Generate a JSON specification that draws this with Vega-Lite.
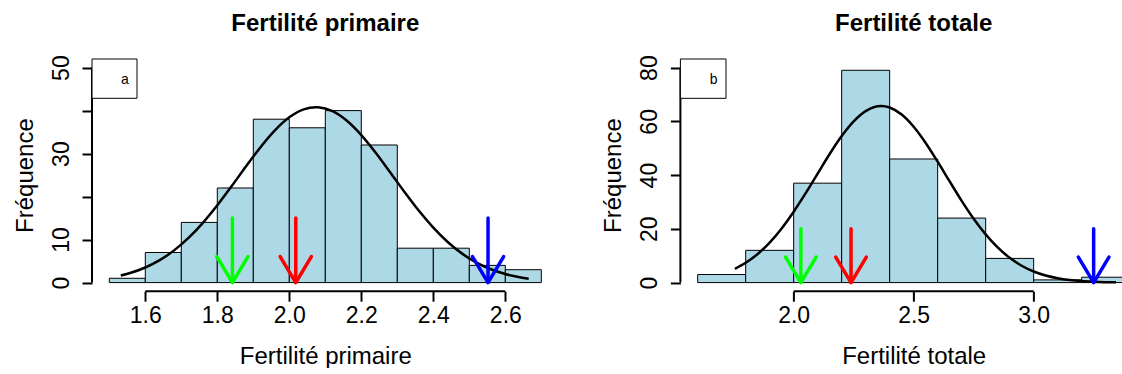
{
  "$schema": "https://vega.github.io/schema/vega-lite/v6.json",
  "padding": {"left": 13, "top": 11, "right": 0, "bottom": 0},
  "spacing": 121.4,
  "bounds": "flush",
  "config": {
    "view": {"stroke": null},
    "font": "Liberation Sans",
    "axis": {"grid": false, "domain": false, "ticks": true, "tickColor": "black", "tickWidth": 2, "tickSize": 10, "labelColor": "black", "labelFontSize": 23, "labelFont": "Liberation Sans", "titleColor": "black", "titleFontSize": 24, "titleFontWeight": "normal", "titleFont": "Liberation Sans", "labelFlush": false},
    "axisX": {"labelPadding": 3, "titlePadding": 17},
    "axisY": {"labelPadding": 9, "titlePadding": 13},
    "title": {"fontSize": 24, "fontWeight": "bold", "color": "black", "font": "Liberation Sans", "anchor": "middle", "offset": 19}
  },
  "datasets": {
    "barsA": [
      {"lo": 1.5, "hi": 1.6, "n": 1}, {"lo": 1.6, "hi": 1.7, "n": 7}, {"lo": 1.7, "hi": 1.8, "n": 14},
      {"lo": 1.8, "hi": 1.9, "n": 22}, {"lo": 1.9, "hi": 2.0, "n": 38}, {"lo": 2.0, "hi": 2.1, "n": 36},
      {"lo": 2.1, "hi": 2.2, "n": 40}, {"lo": 2.2, "hi": 2.3, "n": 32}, {"lo": 2.3, "hi": 2.4, "n": 8},
      {"lo": 2.4, "hi": 2.5, "n": 8}, {"lo": 2.5, "hi": 2.6, "n": 4}, {"lo": 2.6, "hi": 2.7, "n": 3}
    ],
    "curveA": [
      {"x": 1.532, "y": 1.65}, {"x": 1.56, "y": 2.28}, {"x": 1.60, "y": 3.51}, {"x": 1.64, "y": 5.22},
      {"x": 1.68, "y": 7.49}, {"x": 1.72, "y": 10.39}, {"x": 1.76, "y": 13.90}, {"x": 1.80, "y": 17.98},
      {"x": 1.84, "y": 22.44}, {"x": 1.88, "y": 27.05}, {"x": 1.92, "y": 31.49}, {"x": 1.96, "y": 35.40},
      {"x": 2.00, "y": 38.43}, {"x": 2.04, "y": 40.29}, {"x": 2.074, "y": 40.80}, {"x": 2.08, "y": 40.78},
      {"x": 2.12, "y": 39.87}, {"x": 2.16, "y": 37.64}, {"x": 2.20, "y": 34.31}, {"x": 2.24, "y": 30.20},
      {"x": 2.28, "y": 25.67}, {"x": 2.32, "y": 21.07}, {"x": 2.36, "y": 16.70}, {"x": 2.40, "y": 12.79},
      {"x": 2.44, "y": 9.45}, {"x": 2.48, "y": 6.74}, {"x": 2.52, "y": 4.65}, {"x": 2.56, "y": 3.10},
      {"x": 2.60, "y": 1.99}, {"x": 2.64, "y": 1.24}, {"x": 2.665, "y": 0.90}
    ],
    "arrowsA": [
      {"x": 1.842, "top": 15, "s": "vert"}, {"x": 2.018, "top": 15, "s": "rouge"}, {"x": 2.552, "top": 15, "s": "bleu"}
    ],
    "barsB": [
      {"lo": 1.6, "hi": 1.8, "n": 3}, {"lo": 1.8, "hi": 2.0, "n": 12}, {"lo": 2.0, "hi": 2.2, "n": 37},
      {"lo": 2.2, "hi": 2.4, "n": 79}, {"lo": 2.4, "hi": 2.6, "n": 46}, {"lo": 2.6, "hi": 2.8, "n": 24},
      {"lo": 2.8, "hi": 3.0, "n": 9}, {"lo": 3.0, "hi": 3.2, "n": 1}, {"lo": 3.2, "hi": 3.4, "n": 2}
    ],
    "curveB": [
      {"x": 1.755, "y": 5.12}, {"x": 1.80, "y": 7.36}, {"x": 1.85, "y": 10.65}, {"x": 1.90, "y": 14.91},
      {"x": 1.95, "y": 20.16}, {"x": 2.00, "y": 26.35}, {"x": 2.05, "y": 33.26}, {"x": 2.10, "y": 40.58},
      {"x": 2.15, "y": 47.85}, {"x": 2.20, "y": 54.51}, {"x": 2.25, "y": 60.00}, {"x": 2.30, "y": 63.82},
      {"x": 2.365, "y": 65.70}, {"x": 2.40, "y": 65.15}, {"x": 2.45, "y": 62.52}, {"x": 2.50, "y": 57.98},
      {"x": 2.55, "y": 51.96}, {"x": 2.60, "y": 44.99}, {"x": 2.65, "y": 37.64}, {"x": 2.70, "y": 30.43},
      {"x": 2.75, "y": 23.77}, {"x": 2.80, "y": 17.94}, {"x": 2.85, "y": 13.09}, {"x": 2.90, "y": 9.22},
      {"x": 2.95, "y": 6.28}, {"x": 3.00, "y": 4.13}, {"x": 3.05, "y": 2.63}, {"x": 3.10, "y": 1.62},
      {"x": 3.15, "y": 0.96}, {"x": 3.20, "y": 0.55}, {"x": 3.25, "y": 0.31}, {"x": 3.30, "y": 0.16},
      {"x": 3.343, "y": 0.09}
    ],
    "arrowsB": [
      {"x": 2.03, "top": 20, "s": "vert"}, {"x": 2.239, "top": 20, "s": "rouge"}, {"x": 3.25, "top": 20, "s": "bleu"}
    ],
    "legA": [{"label": "a"}],
    "legB": [{"label": "b"}],
    "one": [{}]
  },
  "hconcat": [
    {
      "width": 466.6,
      "height": 232.2,
      "title": {"text": "Fertilité primaire"},
      "layer": [
        {
          "data": {"name": "barsA"},
          "mark": {"type": "rect", "fill": "#ADD8E6", "stroke": "black", "strokeWidth": 1},
          "encoding": {
            "x": {"field": "lo", "type": "quantitative", "scale": {"domain": [1.452, 2.748], "nice": false, "zero": false},
                  "axis": {"title": "Fertilité primaire", "values": [1.6, 1.8, 2.0, 2.2, 2.4, 2.6], "format": ".1f"}},
            "x2": {"field": "hi"},
            "y": {"field": "n", "type": "quantitative", "scale": {"domain": [-2, 52], "nice": false, "zero": false},
                  "axis": {"title": "Fréquence", "values": [0, 10, 20, 30, 40, 50], "labelAngle": -90,
                           "labelExpr": "datum.value == 20 || datum.value == 40 ? '' : datum.label"}},
            "y2": {"datum": 0}
          }
        },
        {
          "data": {"name": "curveA"},
          "mark": {"type": "line", "color": "black", "strokeWidth": 2.5, "interpolate": "monotone"},
          "encoding": {
            "x": {"field": "x", "type": "quantitative"},
            "y": {"field": "y", "type": "quantitative"}
          }
        },
        {
          "data": {"name": "arrowsA"},
          "mark": {"type": "rule", "strokeWidth": 3.5, "strokeCap": "round"},
          "encoding": {
            "x": {"field": "x", "type": "quantitative"},
            "y": {"field": "top", "type": "quantitative"},
            "y2": {"datum": 0},
            "color": {"field": "s", "type": "nominal", "scale": {"domain": ["vert", "rouge", "bleu"], "range": ["#00FF00", "#FF0000", "#0000FF"]}, "legend": null}
          }
        },
        {
          "data": {"name": "arrowsA"},
          "mark": {"type": "point", "shape": "M-0.6,-1L0,0L0.6,-1", "size": 2700, "filled": false, "strokeWidth": 3.5, "strokeCap": "round", "strokeJoin": "round", "opacity": 1},
          "encoding": {
            "x": {"field": "x", "type": "quantitative"},
            "y": {"datum": 0},
            "color": {"field": "s", "type": "nominal", "scale": {"domain": ["vert", "rouge", "bleu"], "range": ["#00FF00", "#FF0000", "#0000FF"]}, "legend": null}
          }
        },
        {
          "data": {"name": "one"},
          "mark": {"type": "rule", "color": "black", "strokeWidth": 2},
          "encoding": {
            "x": {"datum": 1.6}, "x2": {"datum": 2.6},
            "y": {"datum": -2}
          }
        },
        {
          "data": {"name": "one"},
          "mark": {"type": "rule", "color": "black", "strokeWidth": 2},
          "encoding": {
            "x": {"datum": 1.452},
            "y": {"datum": 0}, "y2": {"datum": 50}
          }
        },
        {
          "data": {"name": "legA"},
          "mark": {"type": "rect", "fill": "white", "stroke": "black", "strokeWidth": 1},
          "encoding": {
            "x": {"datum": 1.452}, "x2": {"datum": 1.577},
            "y": {"datum": 52}, "y2": {"datum": 42.86}
          }
        },
        {
          "data": {"name": "legA"},
          "mark": {"type": "text", "fontSize": 14, "color": "black", "align": "center", "baseline": "middle"},
          "encoding": {
            "x": {"datum": 1.543},
            "y": {"datum": 47.2},
            "text": {"field": "label"}
          }
        }
      ]
    },
    {
      "width": 442,
      "height": 232.2,
      "title": {"text": "Fertilité totale", "dx": 12.3},
      "layer": [
        {
          "data": {"name": "barsB"},
          "mark": {"type": "rect", "fill": "#ADD8E6", "stroke": "black", "strokeWidth": 1, "clip": true},
          "encoding": {
            "x": {"field": "lo", "type": "quantitative", "scale": {"domain": [1.528, 3.3697], "nice": false, "zero": false},
                  "axis": {"title": "Fertilité totale", "values": [2.0, 2.5, 3.0], "format": ".1f", "titleX": 233.3}},
            "x2": {"field": "hi"},
            "y": {"field": "n", "type": "quantitative", "scale": {"domain": [-3.2, 83.2], "nice": false, "zero": false},
                  "axis": {"title": "Fréquence", "values": [0, 20, 40, 60, 80], "labelAngle": -90}},
            "y2": {"datum": 0}
          }
        },
        {
          "data": {"name": "curveB"},
          "mark": {"type": "line", "color": "black", "strokeWidth": 2.5, "interpolate": "monotone", "clip": true},
          "encoding": {
            "x": {"field": "x", "type": "quantitative"},
            "y": {"field": "y", "type": "quantitative"}
          }
        },
        {
          "data": {"name": "arrowsB"},
          "mark": {"type": "rule", "strokeWidth": 3.5, "strokeCap": "round"},
          "encoding": {
            "x": {"field": "x", "type": "quantitative"},
            "y": {"field": "top", "type": "quantitative"},
            "y2": {"datum": 0},
            "color": {"field": "s", "type": "nominal", "scale": {"domain": ["vert", "rouge", "bleu"], "range": ["#00FF00", "#FF0000", "#0000FF"]}, "legend": null}
          }
        },
        {
          "data": {"name": "arrowsB"},
          "mark": {"type": "point", "shape": "M-0.6,-1L0,0L0.6,-1", "size": 2600, "filled": false, "strokeWidth": 3.5, "strokeCap": "round", "strokeJoin": "round", "opacity": 1},
          "encoding": {
            "x": {"field": "x", "type": "quantitative"},
            "y": {"datum": 0},
            "color": {"field": "s", "type": "nominal", "scale": {"domain": ["vert", "rouge", "bleu"], "range": ["#00FF00", "#FF0000", "#0000FF"]}, "legend": null}
          }
        },
        {
          "data": {"name": "one"},
          "mark": {"type": "rule", "color": "black", "strokeWidth": 2},
          "encoding": {
            "x": {"datum": 2.0}, "x2": {"datum": 3.0},
            "y": {"datum": -3.2}
          }
        },
        {
          "data": {"name": "one"},
          "mark": {"type": "rule", "color": "black", "strokeWidth": 2},
          "encoding": {
            "x": {"datum": 1.528},
            "y": {"datum": 0}, "y2": {"datum": 80}
          }
        },
        {
          "data": {"name": "legB"},
          "mark": {"type": "rect", "fill": "white", "stroke": "black", "strokeWidth": 1},
          "encoding": {
            "x": {"datum": 1.528}, "x2": {"datum": 1.718},
            "y": {"datum": 83.2}, "y2": {"datum": 68.56}
          }
        },
        {
          "data": {"name": "legB"},
          "mark": {"type": "text", "fontSize": 14, "color": "black", "align": "center", "baseline": "middle"},
          "encoding": {
            "x": {"datum": 1.667},
            "y": {"datum": 75.5},
            "text": {"field": "label"}
          }
        }
      ]
    }
  ]
}
